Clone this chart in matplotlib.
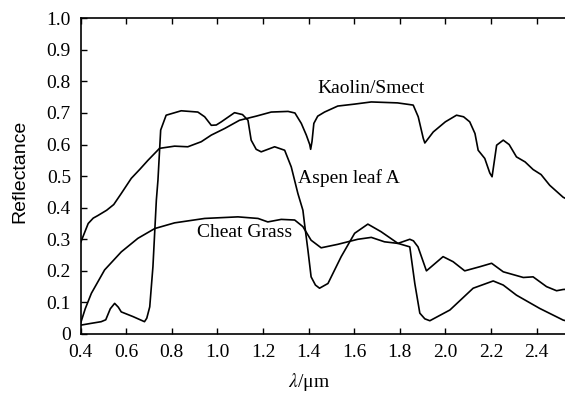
import numpy as np
import matplotlib.pyplot as plt
from matplotlib.ticker import FixedLocator, FixedFormatter

# wavelength (um) / reflectance
kaolin_x = [0.40, 0.433, 0.455, 0.475, 0.514, 0.545, 0.578, 0.622, 0.66, 0.695, 0.746,
            0.812, 0.87, 0.929, 0.973, 1.032, 1.097, 1.17, 1.236, 1.31, 1.34, 1.368,
            1.39, 1.405, 1.409, 1.415, 1.423, 1.44, 1.47, 1.528, 1.6, 1.675, 1.79,
            1.84, 1.859, 1.881, 1.903, 1.91, 1.947, 2.0, 2.049, 2.08, 2.107, 2.13,
            2.144, 2.173, 2.195, 2.205, 2.225, 2.254, 2.28, 2.312, 2.35, 2.385,
            2.42, 2.458, 2.517, 2.54]
kaolin_y = [0.29, 0.35, 0.367, 0.375, 0.392, 0.41, 0.445, 0.493, 0.522, 0.55, 0.588,
            0.595, 0.593, 0.609, 0.63, 0.651, 0.677, 0.69, 0.703, 0.705, 0.70, 0.667,
            0.63, 0.60, 0.585, 0.61, 0.667, 0.69, 0.703, 0.722, 0.728, 0.735, 0.732,
            0.727, 0.725, 0.688, 0.62, 0.605, 0.64, 0.672, 0.693, 0.688, 0.672, 0.635,
            0.582, 0.556, 0.51, 0.498, 0.598, 0.614, 0.60, 0.561, 0.545, 0.521,
            0.505, 0.471, 0.433, 0.425]

aspen_x = [0.40, 0.44, 0.49, 0.51, 0.53, 0.549, 0.565, 0.578, 0.63, 0.68, 0.69, 0.703,
           0.717, 0.732, 0.739, 0.751, 0.775, 0.841, 0.914, 0.944, 0.973, 0.995,
           1.017, 1.075, 1.11, 1.134, 1.148, 1.17, 1.192, 1.251, 1.295, 1.324, 1.353,
           1.375, 1.382, 1.397, 1.411, 1.43, 1.448, 1.485, 1.543, 1.602, 1.66, 1.718,
           1.792, 1.844, 1.866, 1.888, 1.91, 1.932, 2.02, 2.122, 2.21, 2.254, 2.312,
           2.414, 2.517, 2.54]
aspen_y = [0.028, 0.033, 0.039, 0.045, 0.08, 0.097, 0.085, 0.07, 0.055, 0.039, 0.05, 0.086,
           0.213, 0.424, 0.487, 0.646, 0.693, 0.707, 0.703, 0.688, 0.661, 0.662,
           0.672, 0.701, 0.695, 0.677, 0.614, 0.585, 0.577, 0.593, 0.582, 0.529, 0.445,
           0.392, 0.35, 0.266, 0.181, 0.155, 0.145, 0.16, 0.245, 0.319, 0.348, 0.324,
           0.287, 0.276, 0.16, 0.066, 0.048, 0.042, 0.076, 0.145, 0.168, 0.155, 0.123,
           0.081, 0.044, 0.040]

grass_x = [0.40, 0.42, 0.447, 0.505, 0.578, 0.651, 0.725, 0.812, 0.944, 1.09, 1.178,
           1.221, 1.28, 1.339, 1.375, 1.411, 1.455, 1.528, 1.616, 1.675, 1.733, 1.792,
           1.844, 1.86, 1.88, 1.917, 1.99, 2.034, 2.085, 2.151, 2.203, 2.254, 2.342,
           2.385, 2.444, 2.488, 2.517, 2.54]
grass_y = [0.035, 0.08, 0.129, 0.203, 0.26, 0.303, 0.334, 0.352, 0.366, 0.371, 0.366,
           0.355, 0.363, 0.361, 0.34, 0.297, 0.273, 0.284, 0.30, 0.306, 0.292, 0.287,
           0.30, 0.295, 0.276, 0.20, 0.245, 0.229, 0.20, 0.213, 0.224, 0.197, 0.179,
           0.181, 0.15, 0.137, 0.141, 0.142]

xticks = [0.4, 0.6, 0.8, 1.0, 1.2, 1.4, 1.6, 1.8, 2.0, 2.2, 2.4]
yticks = [0, 0.1, 0.2, 0.3, 0.4, 0.5, 0.6, 0.7, 0.8, 0.9, 1.0]
ytick_labels = ['0', '0.1', '0.2', '0.3', '0.4', '0.5', '0.6', '0.7', '0.8', '0.9', '1.0']

plt.rcParams['font.family'] = ['Liberation Serif', 'DejaVu Serif']
plt.rcParams['mathtext.fontset'] = 'stix'

fig = plt.figure(figsize=(5.65, 3.94), dpi=100)
ax = fig.add_axes([0.1428, 0.1523, 0.8572, 0.8013])

for xs, ys in [(kaolin_x, kaolin_y), (aspen_x, aspen_y), (grass_x, grass_y)]:
    ax.plot(xs, ys, color='black', linewidth=1.2)

ax.set_xlim(0.4, 2.525)
ax.set_ylim(0, 1.0)
ax.xaxis.set_major_locator(FixedLocator(xticks))
ax.xaxis.set_major_formatter(FixedFormatter([f'{v:.1f}' for v in xticks]))
ax.yaxis.set_major_locator(FixedLocator(yticks))
ax.yaxis.set_major_formatter(FixedFormatter(ytick_labels))
ax.tick_params(direction='in', length=4, width=1, labelsize=14, top=True,
               colors='black')
ax.tick_params(axis='x', pad=7)
ax.tick_params(axis='y', pad=7)
ax.spines['right'].set_visible(False)
for s in ['left', 'bottom', 'top']:
    ax.spines[s].set_linewidth(1.2)

ax.text(1.44, 0.778, 'Kaolin/Smect', fontsize=14, va='center')
ax.text(1.353, 0.494, 'Aspen leaf A', fontsize=14, va='center')
ax.text(0.91, 0.32, 'Cheat Grass', fontsize=14, va='center')

ax.set_ylabel('Reflectance', fontsize=14, family=['Liberation Sans', 'DejaVu Sans'])
ax.yaxis.set_label_coords(-0.108, 0.515)
ax.set_xlabel(r'$\lambda$/μm', fontsize=14)
ax.xaxis.set_label_coords(0.472, -0.118)

fig.savefig('out.png', dpi=100)
